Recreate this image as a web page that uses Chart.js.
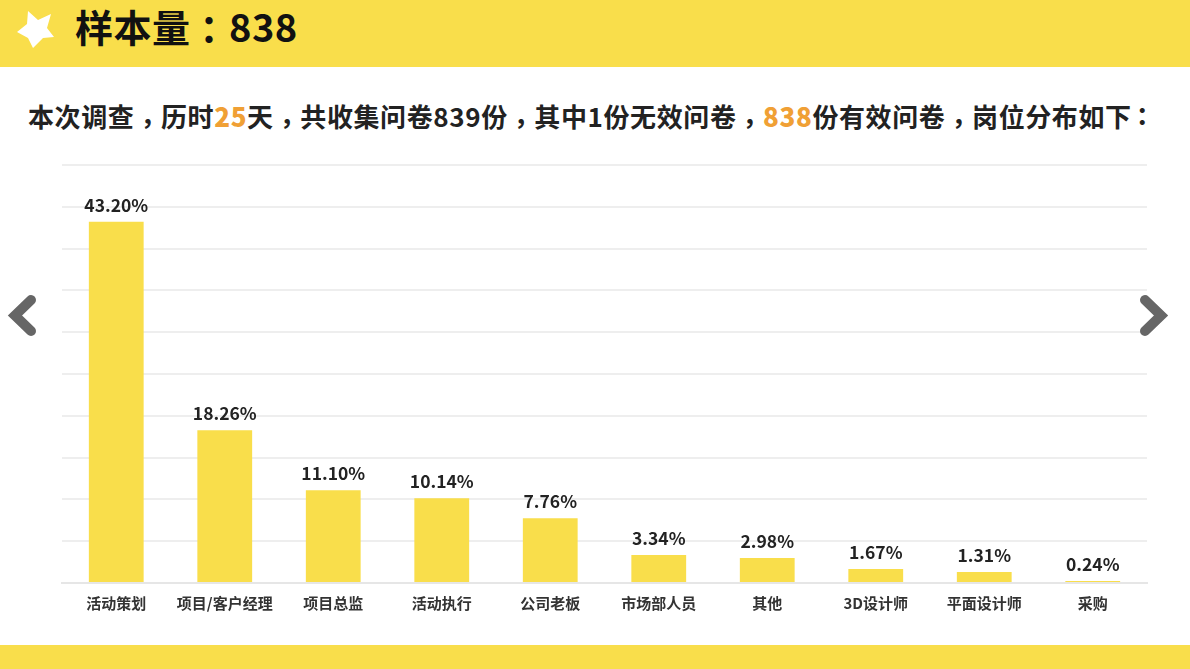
<!DOCTYPE html>
<html lang="zh">
<head>
<meta charset="utf-8"/>
<title>样本量：838</title>
<script src="https://cdn.jsdelivr.net/npm/chart.js"></script>
<style>
  html, body { margin: 0; padding: 0; background: #fff; }
  body { width: 1190px; height: 669px; overflow: hidden; position: relative; font-family: "Noto Sans CJK SC", sans-serif; }
  .top-band { position: absolute; left: 0; top: 0; width: 1190px; height: 67px; background: #f9de4b; }
  .bottom-band { position: absolute; left: 0; top: 645px; width: 1190px; height: 24px; background: #f9de4b; }
  .shapes { position: absolute; left: 0; top: 0; z-index: 2; }
  .title { position: absolute; left: 75px; top: 0; font-size: 38px; line-height: 52px; font-weight: 700; color: #111; white-space: nowrap; letter-spacing: 0.5px; }
  .title .p { position: relative; left: 9px; }
  .intro { position: absolute; left: 28px; top: 97px; font-size: 26px; line-height: 38px; font-weight: 700; color: #222; white-space: nowrap; letter-spacing: 0.6px; }
  .intro b { color: #f0a035; }
  /* the font sets these marks left in the cell, the reference has them centred */
  .intro .p { position: relative; left: 6px; top: -2px; }
  .intro .son { left: 4px; }
  canvas { position: absolute; left: 0; top: 0; }
</style>
</head>
<body>
<div class="top-band"></div>
<div class="bottom-band"></div>
<div class="title">样本量<span class="p">：</span>838</div>
<div class="intro">本次调查<span class="p">，</span>历时<b>25</b>天<span class="p">，</span>共收集问卷839份<span class="p">，</span>其中1份无效问卷<span class="p">，</span><b>838</b>份有效问卷<span class="p">，</span>岗位分布如下<span class="p son">：</span></div>
<div style="position:absolute;left:0;top:0;width:1190px;height:669px">
  <canvas id="grafik" width="1190" height="669"></canvas>
</div>
<svg class="shapes" width="1190" height="669" viewBox="0 0 1190 669">
  <polygon fill="#fff" points="28,11 38,20 51,14 47,28 54,37 43,38 33,48 28,38 17,32 27,24"/>
  <polyline points="31,300 15,315.5 31,331" fill="none" stroke="#666" stroke-width="10" stroke-linecap="round"/>
  <polyline points="1145,300 1161,315.5 1145,331" fill="none" stroke="#666" stroke-width="10" stroke-linecap="round"/>
</svg>
<script>
  const kategoriler = ['活动策划', '项目/客户经理', '项目总监', '活动执行', '公司老板', '市场部人员', '其他', '3D设计师', '平面设计师', '采购'];
  const degerler = [43.20, 18.26, 11.10, 10.14, 7.76, 3.34, 2.98, 1.67, 1.31, 0.24];
  const etiketler = ['43.20%', '18.26%', '11.10%', '10.14%', '7.76%', '3.34%', '2.98%', '1.67%', '1.31%', '0.24%'];

  // Bar value labels
  const degerEtiketi = {
    id: 'degerEtiketi',
    afterDatasetsDraw(chart) {
      const ctx = chart.ctx;
      ctx.save();
      ctx.font = '600 17.5px "Noto Sans CJK SC"';
      ctx.fillStyle = '#222';
      ctx.textAlign = 'center';
      ctx.textBaseline = 'bottom';
      chart.getDatasetMeta(0).data.forEach((bar, i) => {
        ctx.fillText(etiketler[i], bar.x, bar.y - 8);
      });
      ctx.restore();
    }
  };

  new Chart(document.getElementById('grafik'), {
    type: 'bar',
    data: {
      labels: kategoriler,
      datasets: [{
        data: degerler,
        backgroundColor: '#f9de4b',
        barPercentage: 0.505,
        categoryPercentage: 1
      }]
    },
    options: {
      responsive: false,
      animation: false,
      layout: { padding: { left: 62, right: 43, top: 165, bottom: 46 } },
      plugins: { legend: { display: false }, tooltip: { enabled: false } },
      scales: {
        x: {
          afterFit(scale) { scale.height = 40; },
          grid: { display: false },
          border: { color: '#e6e6e6', width: 2 },
          ticks: {
            color: '#333',
            padding: 3,
            maxRotation: 0,
            autoSkip: false,
            font: { family: '"Noto Sans CJK SC"', size: 15, weight: '600' }
          }
        },
        y: {
          min: 0,
          max: 50,
          afterFit(scale) { scale.width = 0; },
          grid: { color: '#eeeeee', lineWidth: 2, drawTicks: false },
          border: { display: false },
          ticks: { display: false, stepSize: 5 }
        }
      }
    },
    plugins: [degerEtiketi]
  });
</script>
</body>
</html>
